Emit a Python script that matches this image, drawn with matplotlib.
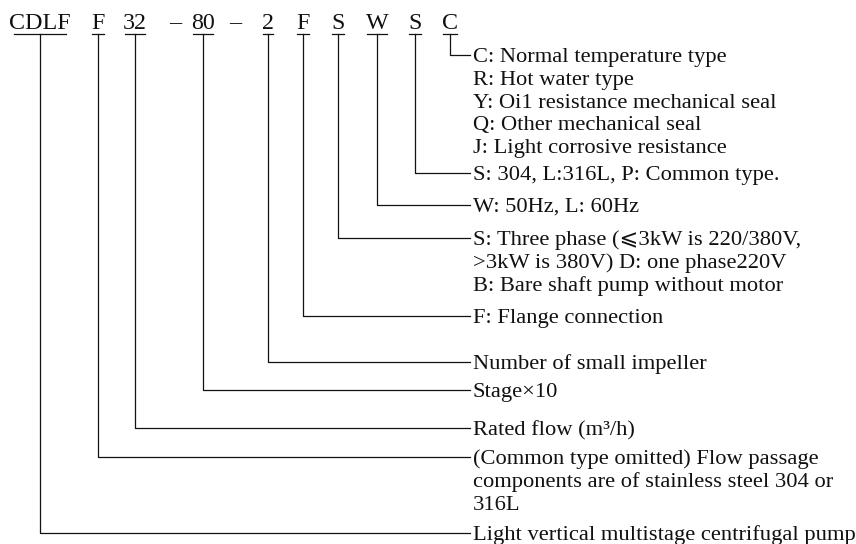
import matplotlib
matplotlib.use("Agg")
import matplotlib.pyplot as plt

# Model code parts (top row) and what each one means
codes = ["CDLF", "F", "32", "–", "80", "–", "2", "F", "S", "W", "S", "C"]
descriptions = {
    0: ["Light vertical multistage centrifugal pump"],
    1: ["(Common type omitted) Flow passage",
        "components are of stainless steel 304 or",
        "316L"],
    2: ["Rated flow (m³/h)"],
    4: ["Stage×10"],
    6: ["Number of small impeller"],
    7: ["F: Flange connection"],
    8: ["S: Three phase (⩽3kW is 220/380V,",
        ">3kW is 380V) D: one phase220V",
        "B: Bare shaft pump without motor"],
    9: ["W: 50Hz, L: 60Hz"],
    10: ["S: 304, L:316L, P: Common type."],
    11: ["C: Normal temperature type",
         "R: Hot water type",
         "Y: Oi1 resistance mechanical seal",
         "Q: Other mechanical seal",
         "J: Light corrosive resistance"],
}

# layout (pixels)
code_x = [40, 98, 135, 175, 203, 235, 268, 303, 338, 377, 415, 450]
row_y = {0: 533, 1: 457, 2: 428, 4: 390, 6: 362, 7: 316,
         8: 238, 9: 205, 10: 173, 11: 55}
code_base = 29
underline_y = 34
line_end = 470
text_x = 473
line_gap = 22.8

serif = ["Liberation Serif", "DejaVu Serif", "DejaVu Sans"]

fig = plt.figure(figsize=(8.56, 5.44), dpi=100)
ax = fig.add_axes([0, 0, 1, 1])
ax.set_xlim(0, 856)
ax.set_ylim(544, 0)
ax.axis("off")

renderer = fig.canvas.get_renderer()
inv = ax.transData.inverted()

for i, code in enumerate(codes):
    t = ax.text(code_x[i], code_base, code, fontsize=17.3, family=serif,
                ha="center", va="baseline", color="#111111")
    if i not in descriptions:
        continue
    bb = t.get_window_extent(renderer)
    (x0, _), (x1, _) = inv.transform([(bb.x0, 0), (bb.x1, 0)])
    w = (x1 - x0) * 0.85
    cx = code_x[i]
    ax.plot([cx - w / 2, cx + w / 2], [underline_y, underline_y],
            color="#111111", lw=0.9)
    y = row_y[i]
    ax.plot([cx, cx, line_end], [underline_y, y, y], color="#111111", lw=0.9)
    for k, line in enumerate(descriptions[i]):
        ax.text(text_x, y + 7 + k * line_gap, line, fontsize=16.2,
                family=serif, ha="left", va="baseline", color="#111111")

fig.savefig("out.png", dpi=100)
